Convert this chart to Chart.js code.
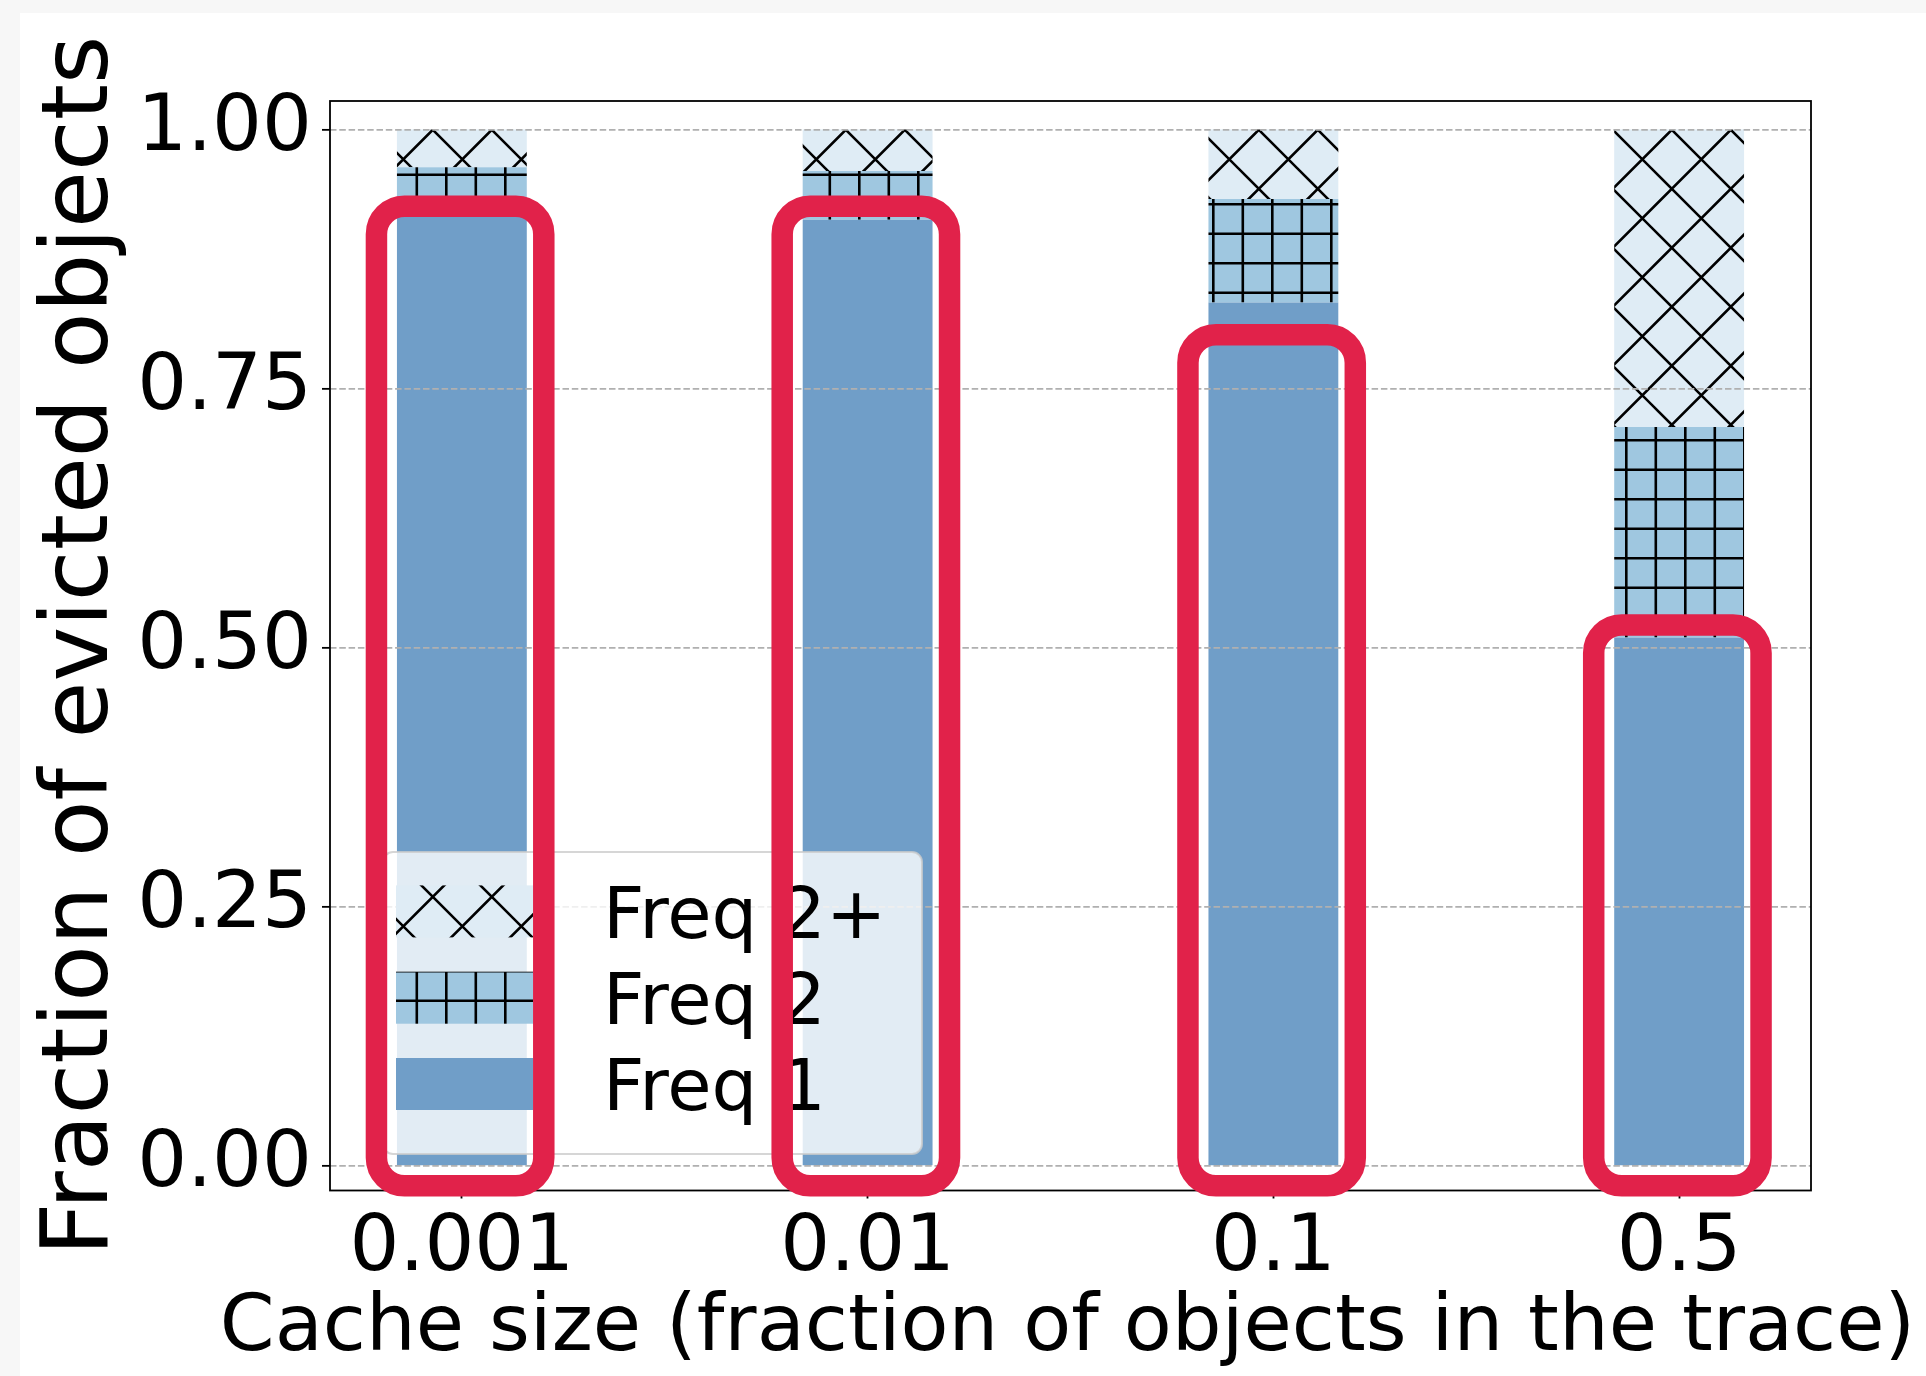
<!DOCTYPE html>
<html><head><meta charset="utf-8">
<script src="https://cdn.jsdelivr.net/npm/chart.js@4.4.1/dist/chart.umd.min.js"></script>
<style>html,body{margin:0;padding:0;background:#f7f7f7;overflow:hidden;} canvas{display:block;}</style>
</head><body>
<canvas id="c" width="1926" height="1376"></canvas>
<script>
// ---- data ----
const categories = ['0.001', '0.01', '0.1', '0.5'];
const freq1     = [0.918, 0.913, 0.833, 0.510];
const freq2     = [0.0455, 0.047, 0.100, 0.203];
const freq2plus = [0.0365, 0.040, 0.067, 0.287];
const highlightTop = [0.926, 0.926, 0.802, 0.522];
const highlightBottom = -0.019;
const yTicks = [0, 0.25, 0.5, 0.75, 1.0];
const seriesLabels = ['Freq 1', 'Freq 2', 'Freq 2+'];
const xTitle = 'Cache size (fraction of objects in the trace)';
const yTitle = 'Fraction of evicted objects';

// ---- styles ----
const FONT = "'DejaVu Sans', sans-serif";
const C1 = '#709ec8', C2 = '#9fc7e0', C3 = '#dfecf5';
const RED = '#e1224a';

function plusPattern(bg) {
  const s = 59, c = document.createElement('canvas'); c.width = s; c.height = s;
  const g = c.getContext('2d');
  g.fillStyle = bg; g.fillRect(0, 0, s, s);
  g.strokeStyle = '#000'; g.lineWidth = 2.6;
  const step = 29.5, ox = 3.8, oy = 27.3;
  g.beginPath();
  for (let k = -1; k <= 2; k++) {
    const x = ox + k * step; g.moveTo(x, -5); g.lineTo(x, s + 5);
    const y = oy + k * step; g.moveTo(-5, y); g.lineTo(s + 5, y);
  }
  g.stroke();
  return g.createPattern(c, 'repeat');
}
function crossPattern(bg) {
  const s = 59, c = document.createElement('canvas'); c.width = s; c.height = s;
  const g = c.getContext('2d');
  g.fillStyle = bg; g.fillRect(0, 0, s, s);
  g.strokeStyle = '#000'; g.lineWidth = 2.6;
  const px = 49.3, py = 41.3;
  g.beginPath();
  for (let m = -4; m <= 4; m++) {
    const a = py - px + m * s;
    g.moveTo(-20, -20 + a); g.lineTo(80, 80 + a);
    const b = px + py + m * s;
    g.moveTo(-20, 20 + b); g.lineTo(80, -80 + b);
  }
  g.stroke();
  return g.createPattern(c, 'repeat');
}
const fills = [C1, plusPattern(C2), crossPattern(C3)];
const seriesData = [freq1, freq2, freq2plus];

const bgPlugin = {
  id: 'bg',
  beforeDraw(chart) {
    const ctx = chart.ctx;
    ctx.save(); ctx.fillStyle = '#ffffff'; ctx.fillRect(20, 13, chart.width - 20, chart.height - 13); ctx.restore();
  }
};

function rrPath(ctx, x, y, w, h, r) {
  ctx.beginPath();
  ctx.moveTo(x + r, y);
  ctx.arcTo(x + w, y, x + w, y + h, r);
  ctx.arcTo(x + w, y + h, x, y + h, r);
  ctx.arcTo(x, y + h, x, y, r);
  ctx.arcTo(x, y, x + w, y, r);
  ctx.closePath();
}

const overlayPlugin = {
  id: 'overlay',
  afterDraw(chart) {
    const ctx = chart.ctx, a = chart.chartArea;
    // frame
    ctx.save();
    ctx.strokeStyle = '#000'; ctx.lineWidth = 1.8;
    ctx.strokeRect(a.left, a.top, a.right - a.left, a.bottom - a.top);
    // x axis title (drawn here so it is not squeezed to the axis width)
    ctx.fillStyle = '#000'; ctx.font = '78.5px ' + FONT;
    ctx.textAlign = 'center'; ctx.textBaseline = 'middle';
    ctx.fillText(xTitle, (a.left + a.right) / 2 - 3, a.bottom + 139.5);
    ctx.restore();
    // legend
    const L = {left: a.left + 53, top: a.top + 751, right: a.left + 592, bottom: a.top + 1053};
    ctx.save();
    rrPath(ctx, L.left, L.top, L.right - L.left, L.bottom - L.top, 10);
    ctx.fillStyle = 'rgba(255,255,255,0.8)'; ctx.fill();
    ctx.strokeStyle = 'rgba(204,204,204,0.8)'; ctx.lineWidth = 2; ctx.stroke();
    const order = [2, 1, 0];
    const rowY0 = L.top + 59.4, rowStep = 86.3;
    ctx.font = '72px ' + FONT; ctx.textBaseline = 'alphabetic'; ctx.textAlign = 'left';
    order.forEach((di, r) => {
      const cy = rowY0 + r * rowStep;
      ctx.fillStyle = chart.data.datasets[di].backgroundColor;
      ctx.fillRect(L.left + 13, cy - 26, 137, 52);
      ctx.fillStyle = '#000';
      ctx.fillText(chart.data.datasets[di].label, L.left + 220, cy + 26.2);
    });
    ctx.restore();
    // highlight boxes
    const xs = chart.scales.x, ys = chart.scales.y;
    const meta = chart.getDatasetMeta(0);
    ctx.save();
    ctx.strokeStyle = RED; ctx.lineWidth = 21.5;
    highlightTop.forEach((v, i) => {
      const el = meta.data[i];
      const hw = el.width / 2;
      const l = xs.getPixelForValue(i) - hw - 20.5, r = xs.getPixelForValue(i) + hw + 17;
      const t = ys.getPixelForValue(v), b = ys.getPixelForValue(highlightBottom);
      rrPath(ctx, l, t, r - l, b - t, 28);
      ctx.stroke();
    });
    ctx.restore();
  }
};

new Chart(document.getElementById('c'), {
  type: 'bar',
  data: {
    datasets: seriesData.map((arr, k) => ({
      label: seriesLabels[k],
      data: arr.map((v, i) => ({x: i, y: v})),
      backgroundColor: fills[k],
      borderWidth: 0,
      categoryPercentage: 1,
      barPercentage: 0.32
    }))
  },
  options: {
    responsive: false, animation: false, devicePixelRatio: 1,
    layout: {padding: {left: 20, top: 101, right: 115, bottom: 0}},
    plugins: {legend: {display: false}, tooltip: {enabled: false}},
    scales: {
      x: {
        type: 'linear', stacked: true, min: -0.325, max: 3.325, offset: false,
        afterBuildTicks: s => { s.ticks = categories.map((_, i) => ({value: i})); },
        afterFit: s => { s.height = 185.5; },
        grid: {offset: false, drawOnChartArea: false, tickLength: 8, tickWidth: 1.8, tickColor: '#000', z: 1},
        border: {display: false},
        ticks: {callback: v => categories[v], color: '#000', padding: 12, maxRotation: 0, autoSkip: false,
                font: {family: FONT, size: 78.5, lineHeight: 1}},
        title: {display: false}
      },
      y: {
        type: 'linear', stacked: true, min: -0.0236, max: 1.0275,
        afterBuildTicks: s => { s.ticks = yTicks.map(v => ({value: v})); },
        afterFit: s => { s.width = 310; },
        grid: {color: '#b0b0b0', lineWidth: 1.7, tickColor: '#000', tickWidth: 1.8, tickLength: 8, z: 1},
        border: {display: false, dash: [6.5, 2.8]},
        ticks: {callback: v => Number(v).toFixed(2), color: '#000', padding: 10,
                font: {family: FONT, size: 78.5, lineHeight: 1}},
        title: {display: true, text: yTitle, color: '#000',
                font: {family: FONT, size: 92.5, lineHeight: 1}, padding: {top: 17, bottom: 0}}
      }
    }
  },
  plugins: [bgPlugin, overlayPlugin]
});
</script>
</body></html>
